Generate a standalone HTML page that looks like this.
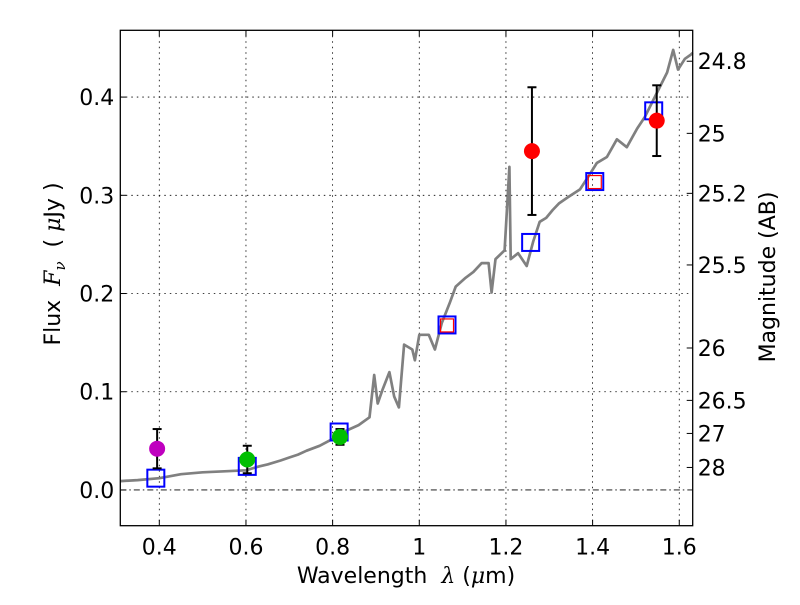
<!DOCTYPE html>
<html><head><meta charset="utf-8"><style>
body{margin:0;background:#fff;}
svg text{font-family:"DejaVu Sans","Liberation Sans",sans-serif;fill:#000;white-space:pre;}
</style></head><body>
<svg id="chart" width="800" height="600" viewBox="0 0 800 600" xmlns="http://www.w3.org/2000/svg">
<rect width="800" height="600" fill="#fff"/>
<g id="grid"></g>
<g id="spec"></g>
<g id="marks"></g>
<rect x="120.3" y="30.3" width="572.4" height="495.4" fill="none" stroke="#000" stroke-width="1.3"/>
<g id="axes"></g>
<text x="406" y="583" font-size="22" text-anchor="middle">Wavelength  <tspan font-style="italic" font-family="DejaVu Serif">λ</tspan> (<tspan font-style="italic" font-family="DejaVu Serif">μ</tspan>m)</text>
<text transform="translate(60,264) rotate(-90)" font-size="22" text-anchor="middle">Flux  <tspan font-style="italic" font-family="DejaVu Serif">F</tspan><tspan font-style="italic" font-family="DejaVu Serif" font-size="15" dy="5">ν</tspan><tspan dy="-5">  ( </tspan><tspan font-style="italic" font-family="DejaVu Serif">μ</tspan>Jy )</text>
<text transform="translate(775,277) rotate(-90)" font-size="22" text-anchor="middle">Magnitude (AB)</text>
</svg>
<script>
const specX=[0.31,0.35,0.40,0.45,0.50,0.55,0.60,0.63,0.65,0.68,0.70,0.72,0.74,0.77,0.80,0.83,0.86,0.885,0.896,0.904,0.915,0.931,0.942,0.953,0.965,0.984,0.99,1.0,1.022,1.036,1.052,1.07,1.084,1.107,1.125,1.144,1.16,1.167,1.176,1.197,1.208,1.211,1.228,1.248,1.263,1.278,1.293,1.308,1.323,1.343,1.371,1.39,1.41,1.433,1.456,1.479,1.503,1.521,1.54,1.572,1.586,1.597,1.613,1.626,1.632];
const specY=[0.009,0.010,0.012,0.016,0.018,0.019,0.020,0.024,0.026,0.030,0.033,0.036,0.040,0.045,0.052,0.060,0.066,0.074,0.117,0.088,0.102,0.120,0.095,0.084,0.148,0.143,0.132,0.158,0.158,0.143,0.170,0.190,0.207,0.216,0.222,0.231,0.231,0.201,0.235,0.244,0.329,0.235,0.241,0.228,0.253,0.273,0.277,0.285,0.292,0.298,0.306,0.319,0.333,0.339,0.357,0.349,0.368,0.380,0.397,0.425,0.448,0.428,0.439,0.443,0.445];
const modelX=[0.392,0.603,0.815,1.064,1.257,1.405,1.541];
const modelY=[0.012,0.024,0.059,0.168,0.252,0.314,0.386];
const redModelX=[1.064,1.405];
const redModelY=[0.168,0.314];
const obsX=[0.395,0.603,0.817,1.26,1.548];
const obsY=[0.042,0.031,0.054,0.345,0.376];
const obsErr=[0.020,0.014,0.008,0.065,0.036];
const obsColor=["#bf00bf","#00bf00","#00bf00","#ff0000","#ff0000"];
const xTicks=[0.4,0.6,0.8,1.0,1.2,1.4,1.6];
const xTickLabels=["0.4","0.6","0.8","1","1.2","1.4","1.6"];
const yTicks=[0.0,0.1,0.2,0.3,0.4];
const yTickLabels=["0.0","0.1","0.2","0.3","0.4"];
const magTicks=[24.8,25,25.2,25.5,26,26.5,27,28];
const magTickLabels=["24.8","25","25.2","25.5","26","26.5","27","28"];

const X0=120.3,X1=692.7,Y0=525.7,Y1=30.3,xmin=0.31,xmax=1.631,ymin=-0.0364,ymax=0.468;
const sx=v=>X0+(v-xmin)/(xmax-xmin)*(X1-X0);
const sy=v=>Y0-(v-ymin)/(ymax-ymin)*(Y0-Y1);
const NS="http://www.w3.org/2000/svg";
function mk(tag,attrs,parent){const e=document.createElementNS(NS,tag);for(const k in attrs)e.setAttribute(k,attrs[k]);parent.appendChild(e);return e;}
const grid=document.getElementById('grid'),axes=document.getElementById('axes'),spec=document.getElementById('spec'),marks=document.getElementById('marks');

xTicks.forEach((t,i)=>{
  const x=sx(t);
  const g=mk('line',{x1:x,x2:x,y1:Y1,y2:Y0,stroke:'#000','stroke-width':0.8,'stroke-dasharray':'1.5,4'},grid);
  
  
  const tk=mk('line',{x1:x,x2:x,y1:Y0,y2:Y0-6,stroke:'#000','stroke-width':1},axes);
  
  
  const tk2=mk('line',{x1:x,x2:x,y1:Y1,y2:Y1+6,stroke:'#000','stroke-width':1},axes);
  
  
  const tx=mk('text',{x:x,y:Y0+29,'font-size':22,'text-anchor':'middle'},axes);
  tx.textContent=xTickLabels[i];
  
  
});
yTicks.forEach((t,i)=>{
  const y=sy(t);
  const g=mk('line',{x1:X0,x2:X1,y1:y,y2:y,stroke:'#000','stroke-width':0.8,'stroke-dasharray':t===0?'6,3,1.5,3':'1.5,4'},grid);
  
  
  const tk=mk('line',{x1:X0,x2:X0+6,y1:y,y2:y,stroke:'#000','stroke-width':1},axes);
  
  
  const tx=mk('text',{x:X0-6,y:y+8,'font-size':22,'text-anchor':'end'},axes);
  tx.textContent=yTickLabels[i];
  
  
});
magTicks.forEach((m,i)=>{
  const f=Math.pow(10,(23.9-m)/2.5);
  const y=sy(f);
  const tk=mk('line',{x1:X1,x2:X1-6,y1:y,y2:y,stroke:'#000','stroke-width':1},axes);
  
  
  const tx=mk('text',{x:X1+5,y:y+8,'font-size':22,'text-anchor':'start'},axes);
  tx.textContent=magTickLabels[i];
  
  
});
let d='';
specX.forEach((v,i)=>{const x=Math.min(Math.max(sx(v),X0),X1);d+=(i?'L':'M')+x.toFixed(1)+','+sy(specY[i]).toFixed(1);});
const p=mk('path',{d:d,fill:'none',stroke:'#808080','stroke-width':2.7,'stroke-linejoin':'round'},spec);



modelX.forEach((v,i)=>{
  const r=mk('rect',{x:sx(v)-8.5,y:sy(modelY[i])-8.5,width:17,height:17,fill:'none',stroke:'#0000ff','stroke-width':2},marks);
  
  
});
redModelX.forEach((v,i)=>{
  const r=mk('rect',{x:sx(v)-6.5,y:sy(redModelY[i])-6,width:13,height:13,fill:'none',stroke:'#ff0000','stroke-width':1.2},marks);
  
  
});
obsX.forEach((v,i)=>{
  const x=sx(v),yt=sy(obsY[i]+obsErr[i]),yb=sy(obsY[i]-obsErr[i]);
  const l=mk('line',{x1:x,x2:x,y1:yt,y2:yb,stroke:'#000','stroke-width':2},marks);
  
  
  [yt,yb].forEach(yy=>{
    const c=mk('line',{x1:x-4.5,x2:x+4.5,y1:yy,y2:yy,stroke:'#000','stroke-width':2},marks);
    
    
  });
  const ci=mk('circle',{cx:x,cy:sy(obsY[i]),r:8,fill:obsColor[i]},marks);
  
  
});
</script>
</body></html>
